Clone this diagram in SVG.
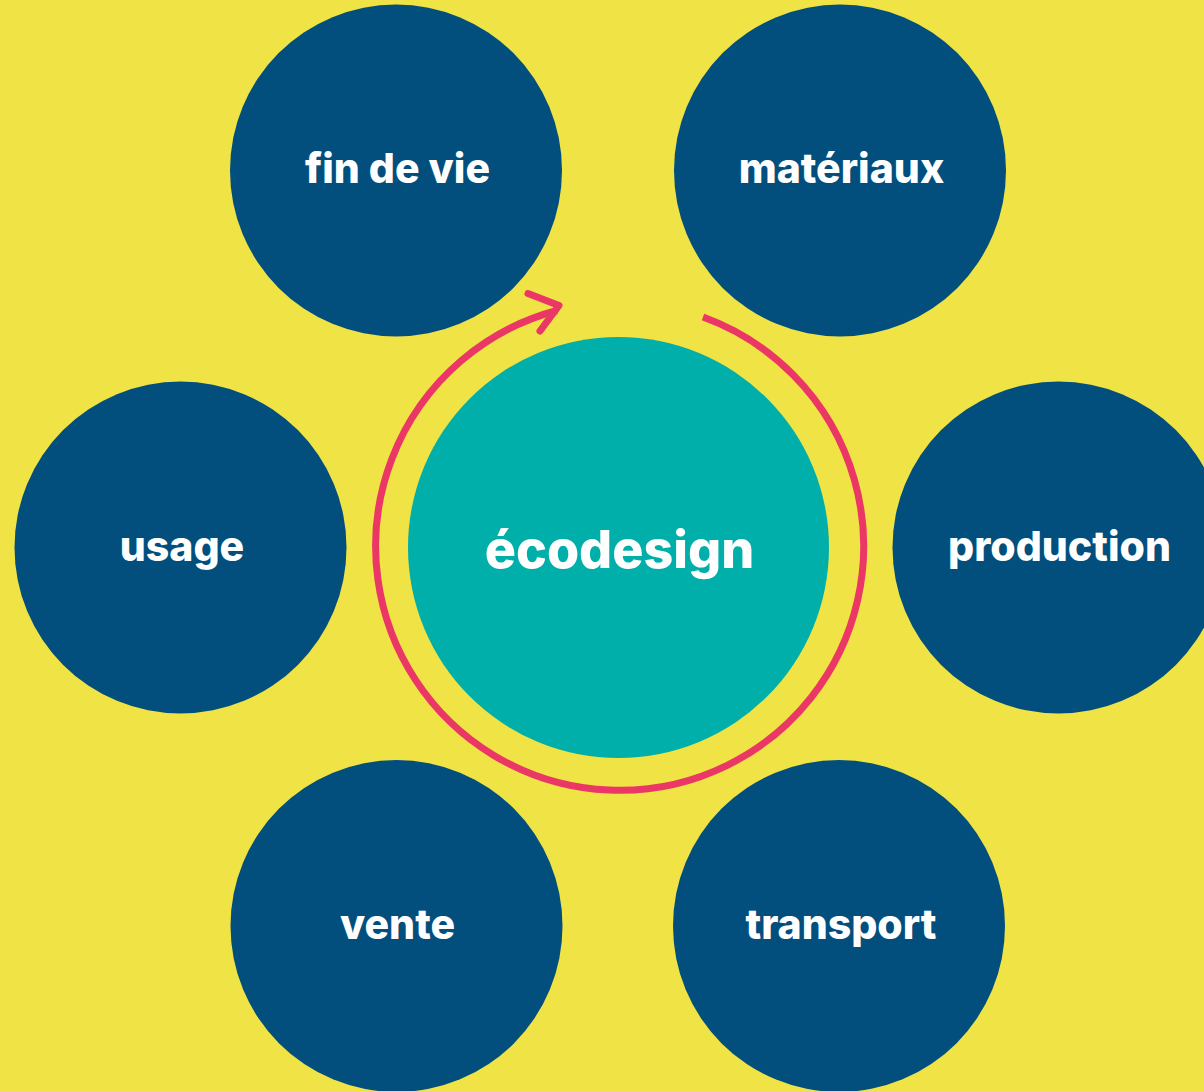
<svg xmlns="http://www.w3.org/2000/svg" width="1204" height="1091" viewBox="0 0 1204 1091">
<style>
.node{fill:#024F7E}
.lbl{fill:#fff;font-family:Inter,"Liberation Sans",sans-serif;font-weight:800;font-size:41px;text-anchor:middle}
.big{font-size:52px}
.arc{fill:none;stroke:#EA3766;stroke-width:7}
.head{fill:none;stroke:#EA3766;stroke-width:7;stroke-linecap:round;stroke-linejoin:round}
</style>
<rect width="1204" height="1091" fill="#F0E345"/>
<g id="fin-de-vie"><circle class="node" cx="396" cy="170.5" r="166"/><text class="lbl" x="397.5" y="182.5">fin de vie</text></g>
<g id="materiaux"><circle class="node" cx="840" cy="170.5" r="166"/><text class="lbl" x="841.5" y="182.5">matériaux</text></g>
<g id="usage"><circle class="node" cx="180.5" cy="547.5" r="166"/><text class="lbl" x="182" y="561">usage</text></g>
<g id="production"><circle class="node" cx="1058.5" cy="547.5" r="166"/><text class="lbl" x="1059.5" y="561">production</text></g>
<g id="vente"><circle class="node" cx="396.5" cy="926" r="166"/><text class="lbl" x="397.5" y="938.5">vente</text></g>
<g id="transport"><circle class="node" cx="839" cy="926" r="166"/><text class="lbl" x="841" y="938.5">transport</text></g>
<g id="ecodesign"><circle cx="618.5" cy="547.5" r="210.5" fill="#00AFAA"/><text class="lbl big" x="619.5" y="568">écodesign</text></g>
<g id="connectors">
<path class="arc" d="M 703 317 A 244 244 0 1 1 557 310.5"/>
<polyline class="head" points="528,293.5 559,305.5 540,331"/>
</g>
</svg>
